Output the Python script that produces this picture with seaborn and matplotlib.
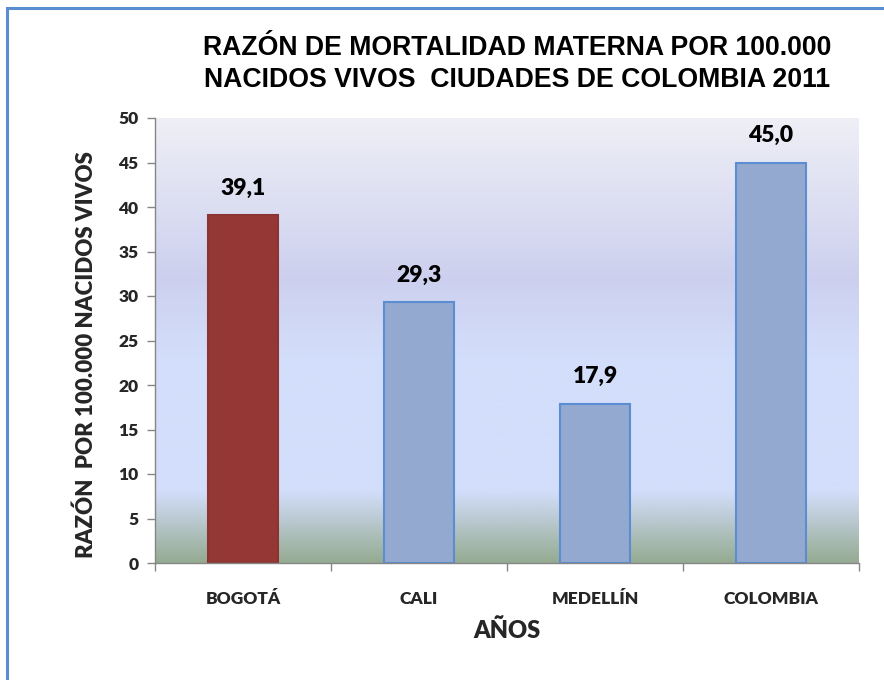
import numpy as np
import pandas as pd
import matplotlib
matplotlib.use("Agg")
import matplotlib.pyplot as plt
from matplotlib.colors import LinearSegmentedColormap
from matplotlib.patches import Rectangle
import seaborn as sns

# ---- data ----
categories = ["BOGOTÁ", "CALI", "MEDELLÍN", "COLOMBIA"]
values = [39.1, 29.3, 17.9, 45.0]
value_labels = ["39,1", "29,3", "17,9", "45,0"]
bar_colors = ["#953735", "#94A9CF", "#94A9CF", "#94A9CF"]
edge_colors = ["#8C3432", "#5B8DD3", "#5B8DD3", "#5B8DD3"]
y_ticks = [0, 5, 10, 15, 20, 25, 30, 35, 40, 45, 50]
title_lines = ["RAZÓN DE MORTALIDAD MATERNA POR 100.000",
               "NACIDOS VIVOS  CIUDADES DE COLOMBIA 2011"]
y_label = "RAZÓN  POR 100.000 NACIDOS VIVOS"
x_label = "AÑOS"

sns.set_theme(style="white")
plt.rcParams["font.family"] = ["Lato", "DejaVu Sans"]
WT = 800

W, H = 884, 680
fig = plt.figure(figsize=(W / 100, H / 100), dpi=100)
fig.patch.set_facecolor("white")

L, R, T, B = 155, 859, 118, 563
ax = fig.add_axes([L / W, 1 - B / H, (R - L) / W, (B - T) / H])

df = pd.DataFrame({"cat": categories, "val": values})
sns.barplot(data=df, x="cat", y="val", hue="cat", palette=bar_colors,
            width=0.4, legend=False, ax=ax, saturation=1, zorder=3)
for p, ec in zip(ax.patches, edge_colors):
    p.set_edgecolor(ec)
    p.set_linewidth(1.5)

# gradient background
stops = [(0.0, "#95AB92"), (8 / 50, "#D3DEFB"), (23 / 50, "#D3DEFB"),
         (32 / 50, "#CCD0EE"), (1.0, "#EFEFF6")]
cmap = LinearSegmentedColormap.from_list("bg", stops)
grad = np.linspace(0, 1, 512).reshape(-1, 1)
ax.imshow(grad, cmap=cmap, aspect="auto", origin="lower",
          extent=[-0.5, 3.5, 0, 50], zorder=0)
ax.set_xlim(-0.5, 3.5)
ax.set_ylim(0, 50)

# spines / ticks
for s in ["top", "right"]:
    ax.spines[s].set_visible(False)
for s in ["left", "bottom"]:
    ax.spines[s].set_color("#868686")
    ax.spines[s].set_linewidth(1.0)
    ax.spines[s].set_zorder(4)

ax.set_yticks(y_ticks)
ax.set_yticklabels([str(t) for t in y_ticks], fontsize=12.5, fontweight=WT)
ax.tick_params(axis="y", length=6, width=1, color="#868686", pad=6,
               direction="out", left=True)
ax.set_xticks(range(len(categories)))
ax.set_xticklabels(categories, fontsize=12.5, fontweight=WT)
ax.set_xticks([-0.5, 0.5, 1.5, 2.5, 3.5], minor=True)
ax.tick_params(axis="x", which="major", length=0, pad=20)
ax.tick_params(axis="x", which="minor", length=6, width=1, color="#868686",
               direction="out", bottom=True)

# value labels
for i, (v, lab) in enumerate(zip(values, value_labels)):
    ax.annotate(lab, (i, v), xytext=(0, 27), textcoords="offset pixels",
                ha="center", va="center", fontsize=16.5, fontweight=WT,
                color="black", zorder=5)

ax.set_xlabel(x_label, fontsize=17, fontweight=WT, va="center")
ax.xaxis.set_label_coords(0.5, (B - 631) / (B - T))
ax.set_ylabel(y_label, fontsize=16, fontweight=WT, va="center")
ax.yaxis.set_label_coords((86 - L) / (R - L), (B - 355) / (B - T))

# title
for k, line in enumerate(title_lines):
    fig.text(517 / W, 1 - (48 + 32 * k) / H, line, ha="center", va="center",
             fontsize=19.2, fontweight="bold", family=["Liberation Sans"],
             color="black")

# outer border
fig.patches.append(Rectangle((7 / W, -0.1), 1.2, 1 - 8 / H + 0.1,
                             transform=fig.transFigure, fill=False,
                             edgecolor="#5B8DD3", linewidth=2.2))

fig.savefig("out.png", dpi=100, facecolor="white")
